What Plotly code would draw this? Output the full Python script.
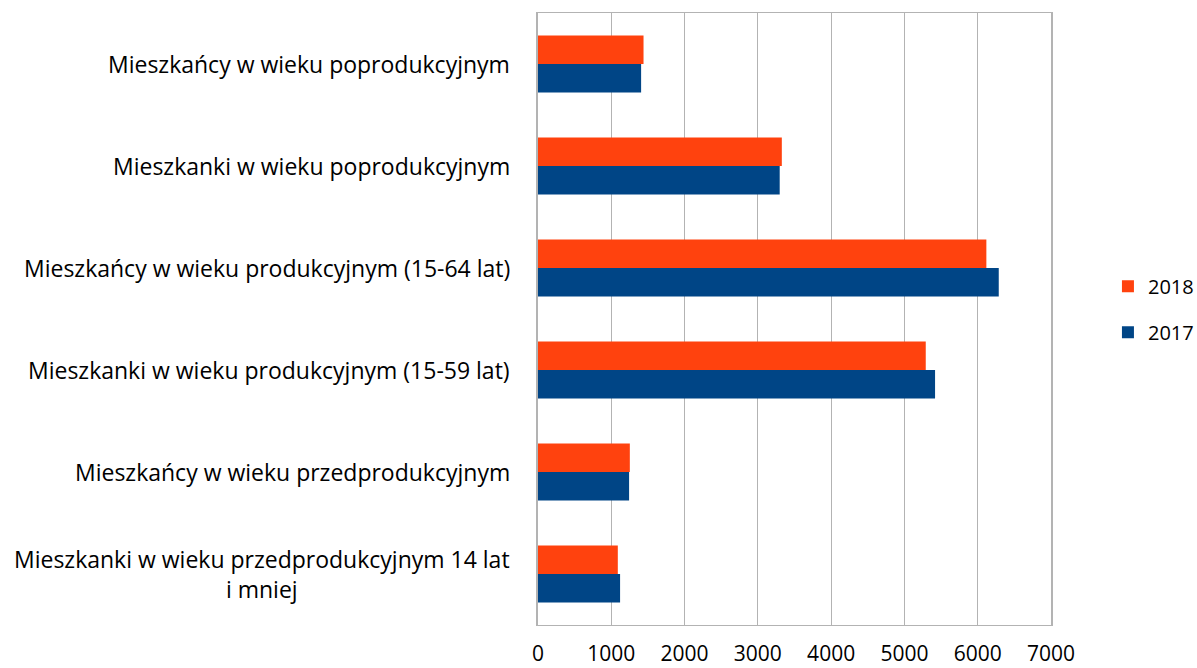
import plotly.graph_objects as go

# categories listed bottom -> top as they appear on the chart
categories = [
    "Mieszkanki w wieku przedprodukcyjnym 14 lat<br>i mniej",
    "Mieszkańcy w wieku przedprodukcyjnym",
    "Mieszkanki w wieku produkcyjnym (15-59 lat)",
    "Mieszkańcy w wieku produkcyjnym (15-64 lat)",
    "Mieszkanki w wieku poprodukcyjnym",
    "Mieszkańcy w wieku poprodukcyjnym",
]
values_2017 = [1120, 1243, 5418, 6287, 3298, 1407]
values_2018 = [1089, 1253, 5291, 6118, 3327, 1440]
x_ticks = [0, 1000, 2000, 3000, 4000, 5000, 6000, 7000]

FONT = "'Open Sans', Lato, sans-serif"
FSIZE = 23

fig = go.Figure()
fig.add_trace(go.Bar(
    y=categories, x=values_2017, name="2017", orientation="h",
    legendgroup="a", legendrank=2,
    marker=dict(color="#004586", line=dict(width=0)),
))
fig.add_trace(go.Bar(
    y=categories, x=values_2018, name="2018", orientation="h",
    legendgroup="b", legendrank=1,
    marker=dict(color="#ff420e", line=dict(width=0)),
))

# category labels as annotations so the wrapped label is centred like the original
for cat in categories:
    fig.add_annotation(
        x=-0.05, xref="paper", y=cat, yref="y",
        text=cat, showarrow=False, xanchor="right", align="center",
        font=dict(family=FONT, size=FSIZE, color="#000000"),
    )

fig.update_layout(
    width=1197, height=668,
    margin=dict(l=538, r=146, t=13, b=43, autoexpand=False),
    paper_bgcolor="white", plot_bgcolor="white",
    barmode="group", bargap=0.44, bargroupgap=0,
    font=dict(family=FONT, size=FSIZE, color="#000000"),
    legend=dict(
        x=1.111, y=0.516, xanchor="left", yanchor="middle",
        traceorder="grouped", font=dict(size=20),
        itemwidth=30, tracegroupgap=17,
    ),
    showlegend=True,
)
fig.update_xaxes(
    range=[0, 7000], tickvals=x_ticks, ticktext=[str(v) for v in x_ticks],
    tickfont=dict(size=21),
    showgrid=True, gridcolor="#b3b3b3", gridwidth=1,
    showline=True, linecolor="#b3b3b3", linewidth=1, mirror=True,
    zeroline=False, ticks="", ticklabelstandoff=10,
)
fig.update_yaxes(
    showticklabels=False, showgrid=False,
    showline=True, linecolor="#b3b3b3", linewidth=2, mirror=True,
    ticks="",
)

# drop the default page margin so the figure sits at the window's corner
fig.write_html(
    "out.html",
    config={"displayModeBar": False},
    post_script="document.body.style.margin='0';",
)
